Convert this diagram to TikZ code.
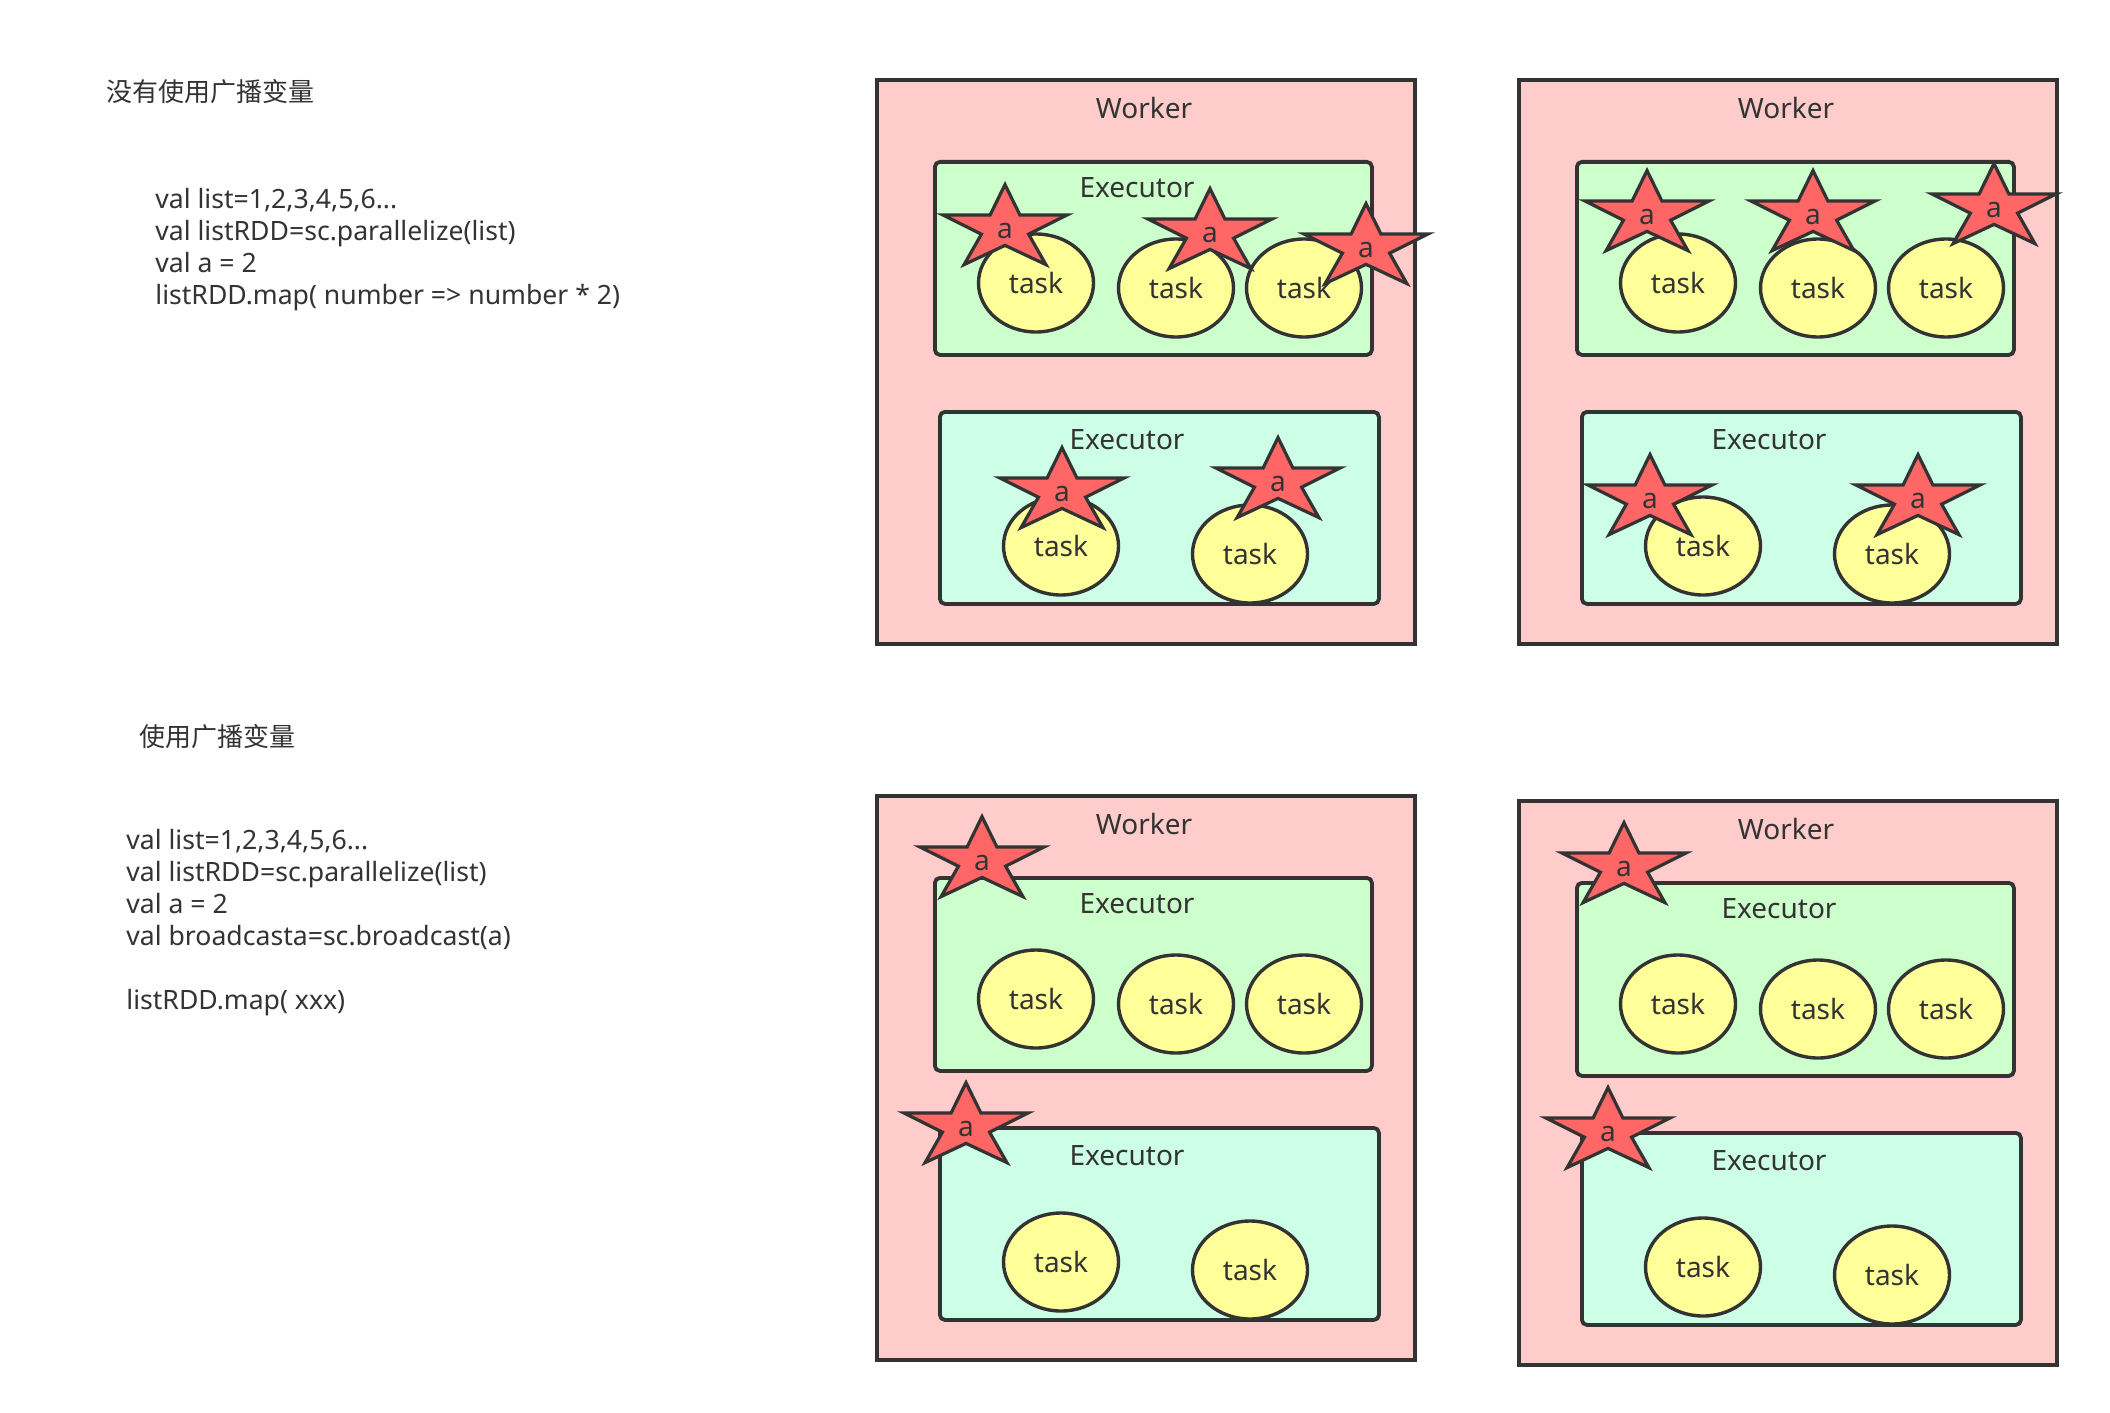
\documentclass[tikz,border=0pt]{standalone}
\usepackage{fontspec}
\setmainfont{Noto Sans}
\newfontfamily\cjk{Noto Sans CJK SC}
\usetikzlibrary{shapes.geometric}
\definecolor{workerfill}{HTML}{FFCCCC}
\definecolor{execafill}{HTML}{CCFFCC}
\definecolor{execbfill}{HTML}{CCFFE6}
\definecolor{taskfill}{HTML}{FFFF99}
\definecolor{starfill}{HTML}{FF6666}
\definecolor{linecol}{HTML}{333333}
\definecolor{txtcol}{HTML}{333333}
\tikzset{
  workerbox/.style={draw=linecol, fill=workerfill, line width=1.9pt, minimum width=269pt, minimum height=282pt, anchor=north west, inner sep=0pt},
  execabox/.style={draw=linecol, fill=execafill, line width=1.9pt, rounded corners=2.5pt, minimum width=218.5pt, minimum height=96.5pt, anchor=north west, inner sep=0pt},
  execbbox/.style={draw=linecol, fill=execbfill, line width=1.9pt, rounded corners=2.5pt, minimum width=219.5pt, minimum height=96pt, anchor=north west, inner sep=0pt},
  taskell/.style={ellipse, draw=linecol, fill=taskfill, line width=1.7pt, minimum width=57.5pt, minimum height=49pt, inner sep=0pt, text=txtcol, font=\fontsize{14}{17}\selectfont},
  boxlabel/.style={text=txtcol, inner sep=0pt, font=\fontsize{14}{17}\selectfont},
  codetext/.style={text=txtcol, inner sep=0pt, anchor=north west, align=left, font=\fontsize{13.3}{16}\selectfont},
  titletext/.style={text=txtcol, inner sep=0pt, anchor=west, font=\cjk\fontsize{13}{16}\selectfont},
  starline/.style={draw=linecol, fill=starfill, line width=1.6pt, line join=miter},
  astar/.pic={
    \path[starline] (0,-46.4) -- (14.9,-16) -- (62,-16) -- (23.6,3.2) -- (40.9,33.6)
      -- (0,14.4) -- (-40.9,33.6) -- (-23.6,3.2) -- (-62,-16) -- (-14.9,-16) -- cycle;
    \node[boxlabel] (-txt) at (0,0) {a};
  }
}
% #1 prefix, #2 x, #3 y, #4 top executor label
\newcommand\workerunit[4]{%
  \begin{scope}[shift={(#2,#3)}]
    \node[workerbox] (#1w) at (0,0) {};
    \node[boxlabel] (#1wl) at (269,30) {Worker};
    \node[execabox] (#1ea) at (58,82) {};
    \if\relax\detokenize{#4}\relax\else
      \node[boxlabel] (#1eal) at (262,110) {#4};
    \fi
    \node[execbbox] (#1eb) at (63,332) {};
    \node[boxlabel] (#1ebl) at (252,362) {Executor};
    \node[taskell] (#1t1) at (161,205) {task};
    \node[taskell] (#1t2) at (301,210) {task};
    \node[taskell] (#1t3) at (429,210) {task};
    \node[taskell] (#1t4) at (186,468) {task};
    \node[taskell] (#1t5) at (375,476) {task};
  \end{scope}%
}
\begin{document}
\begin{tikzpicture}[x=0.5pt, y=-0.5pt]
\useasboundingbox[fill=white] (0,0) rectangle (2110,1413);

% titles and code
\node[titletext] (title1) at (106,92) {没有使用广播变量};
\node[codetext] (code1) at (155,188) {val list=1,2,3,4,5,6...\\val listRDD=sc.parallelize(list)\\val a = 2\\listRDD.map( number => number * 2)};
\node[titletext] (title2) at (139,737) {使用广播变量};
\node[codetext] (code2) at (126,829) {val list=1,2,3,4,5,6...\\val listRDD=sc.parallelize(list)\\val a = 2\\val broadcasta=sc.broadcast(a)\\ \\listRDD.map( xxx)};

% workers
\workerunit{A}{875}{78}{Executor}
\workerunit{B}{1517}{78}{}
\workerunit{C}{875}{794}{Executor}
\workerunit{D}{1517}{799}{Executor}

% broadcast variable copies
\pic (sA1) at (1005,231) {astar};
\pic (sA2) at (1210,235) {astar};
\pic (sA3) at (1366,250) {astar};
\pic (sA4) at (1062,494) {astar};
\pic (sA5) at (1278,484) {astar};
\pic (sB1) at (1647,217) {astar};
\pic (sB2) at (1813,217) {astar};
\pic (sB3) at (1994,210) {astar};
\pic (sB4) at (1650,501) {astar};
\pic (sB5) at (1918,501) {astar};
\pic (sC1) at (982,863) {astar};
\pic (sC2) at (966,1129) {astar};
\pic (sD1) at (1624,869) {astar};
\pic (sD2) at (1608,1134) {astar};
\end{tikzpicture}
\end{document}
